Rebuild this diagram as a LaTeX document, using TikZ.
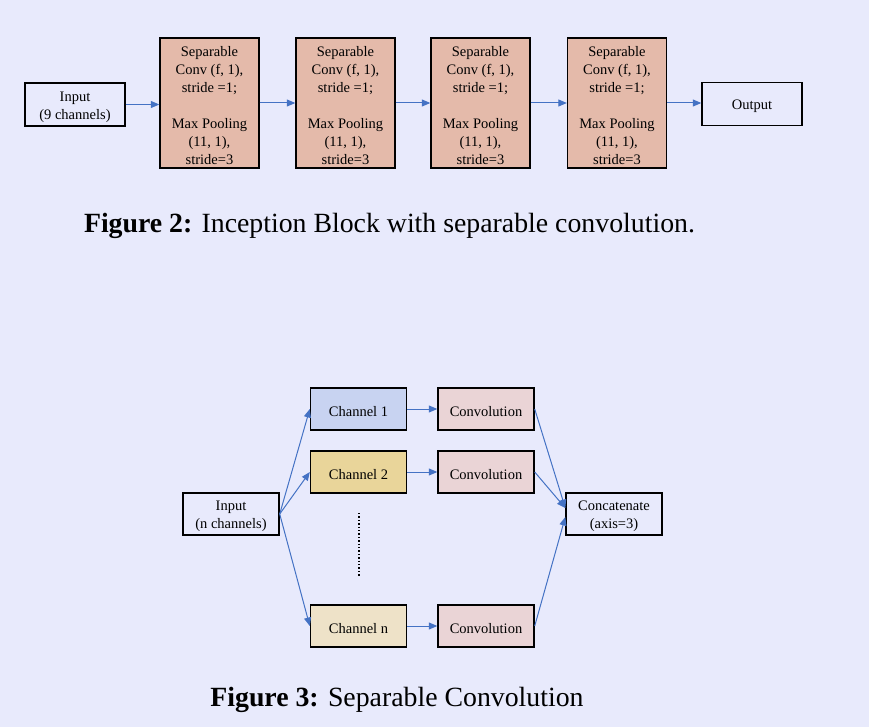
\documentclass[tikz,border=0pt]{standalone}
\usepackage{fontspec}
\setmainfont{Liberation Serif}
\usetikzlibrary{arrows.meta}
\definecolor{bgc}{RGB}{232,234,252}
\definecolor{sepc}{RGB}{228,186,170}
\definecolor{chA}{RGB}{200,211,241}
\definecolor{chB}{RGB}{233,213,154}
\definecolor{chN}{RGB}{238,226,200}
\definecolor{convc}{RGB}{234,212,214}
\definecolor{arrc}{RGB}{68,114,196}
\newcommand\toprule{\rule{0pt}{15pt}}
\tikzset{
  box/.style={draw=black, line width=1.4pt, inner sep=0pt, align=center,
    font=\fontsize{14.5}{18}\selectfont,
    execute at begin node={\toprule}},
  sepbox/.style={box, fill=sepc, minimum width=99pt, minimum height=130pt},
  iobox/.style={box, minimum width=100pt, minimum height=43pt},
  smallbox/.style={box, minimum width=96pt, minimum height=42pt},
  conn/.style={draw=arrc, line width=1pt, -{Triangle[length=8.5pt,width=7pt]}},
  captext/.style={font=\fontsize{27.8}{32}\selectfont, anchor=base}
}
\begin{document}
\begin{tikzpicture}[x=1pt,y=-1pt]
\fill[bgc] (0,0) rectangle (869,727);
\useasboundingbox (0,0) rectangle (869,727);
% Figure 2
\node[iobox] (in2) at (75,104.5) {\toprule Input\\(9 channels)};
\node[sepbox] (s1) at (209.5,103) {\toprule Separable\\Conv (f, 1),\\stride =1;\\[18pt]Max Pooling\\(11, 1),\\stride=3};
\node[sepbox] (s2) at (345.5,103) {\toprule Separable\\Conv (f, 1),\\stride =1;\\[18pt]Max Pooling\\(11, 1),\\stride=3};
\node[sepbox] (s3) at (480.5,103) {\toprule Separable\\Conv (f, 1),\\stride =1;\\[18pt]Max Pooling\\(11, 1),\\stride=3};
\node[sepbox] (s4) at (617,103) {\toprule Separable\\Conv (f, 1),\\stride =1;\\[18pt]Max Pooling\\(11, 1),\\stride=3};
\node[iobox] (out2) at (752,104) {Output};
\draw[conn] (in2.east) -- (s1.west |- in2.east);
\draw[conn] (s1.east) -- (s2.west);
\draw[conn] (s2.east) -- (s3.west);
\draw[conn] (s3.east) -- (s4.west);
\draw[conn] (s4.east) -- (out2.west |- s4.east);
\node[captext] (cap2) at (389.5,233) {\textbf{Figure 2:} Inception Block with separable convolution.};
% Figure 3
\node[smallbox] (in3) at (231,514) {\toprule Input\\(n channels)};
\node[smallbox, fill=chA] (c1) at (358.5,409) {Channel 1};
\node[smallbox, fill=chB] (c2) at (358.5,472) {Channel 2};
\node[smallbox, fill=chN] (cn) at (358.5,626) {Channel n};
\node[smallbox, fill=convc] (v1) at (486,409) {Convolution};
\node[smallbox, fill=convc] (v2) at (486,472) {Convolution};
\node[smallbox, fill=convc] (vn) at (486,626) {Convolution};
\node[smallbox] (cat) at (614,514) {\toprule Concatenate\\(axis=3)};
\coordinate (d1) at (359,513);
\coordinate (d2) at (359,577);
\draw[line width=2pt, dash pattern=on 1.4pt off 2pt] (d1) -- (d2);
\draw[conn] (in3.east) -- (c1.west);
\draw[conn] (in3.east) -- (c2.west);
\draw[conn] (in3.east) -- (cn.west);
\draw[conn] (c1.east) -- (v1.west);
\draw[conn] (c2.east) -- (v2.west);
\draw[conn] (cn.east) -- (vn.west);
\draw[conn] (v1.east) -- ([yshift=6pt]cat.west);
\draw[conn] (v2.east) -- ([yshift=6pt]cat.west);
\draw[conn] (vn.east) -- ([yshift=-3pt]cat.west);
\node[captext] (cap3) at (397,706) {\textbf{Figure 3:} Separable Convolution};
\end{tikzpicture}
\end{document}
